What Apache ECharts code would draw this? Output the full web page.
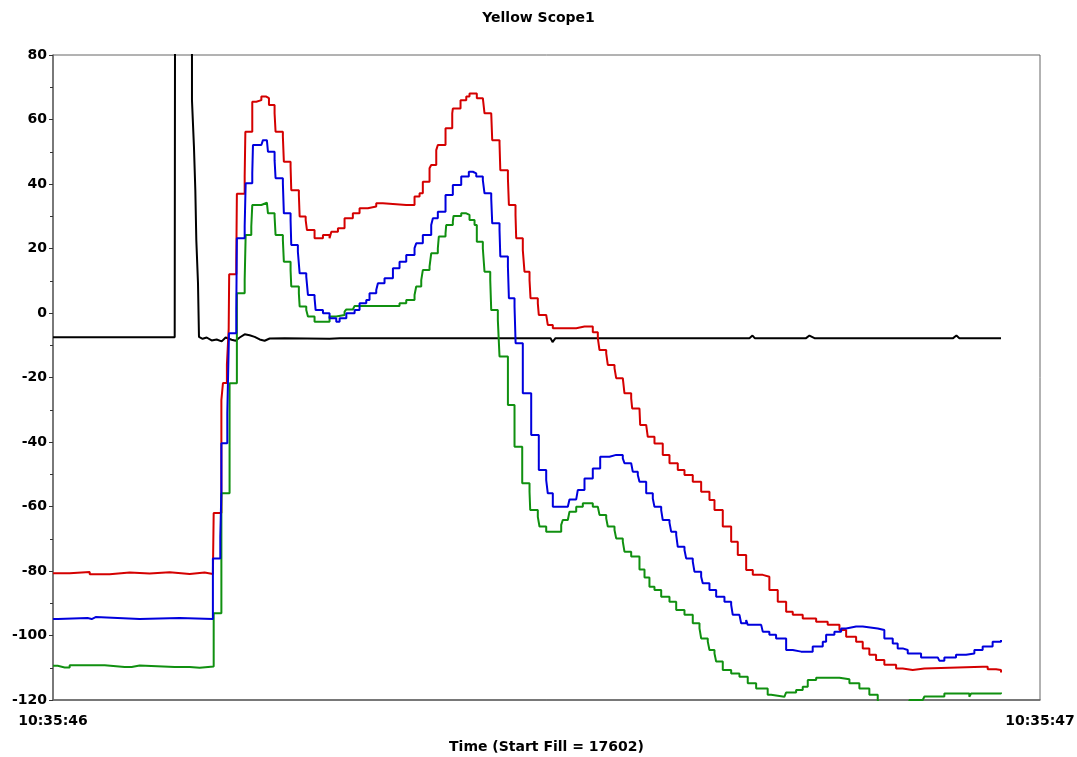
<!DOCTYPE html>
<html>
<head>
<meta charset="utf-8">
<script src="https://cdn.jsdelivr.net/npm/echarts@6/dist/echarts.min.js"></script>
<style>html,body{margin:0;padding:0;background:#fff;}#c{width:1077px;height:757px;}</style>
</head>
<body>
<div id="c"></div>
<script>
// time in ms after 10:35:46, value
const xTickLabels = ['10:35:46', '10:35:47'];
const yTicks = [-120, -100, -80, -60, -40, -20, 0, 20, 40, 60, 80];

const red = [[0,-80.7],[16.9,-80.3],[37.2,-81],[57.4,-80.5],[77.7,-80.8],[97.9,-80.4],[118.2,-80.9],[138.5,-80.5],[153.6,-80.9],[162.0,-80.7],
[162.8,-62],[170.6,-55.9],[170.6,-27],[172.2,-21.7],[176.2,-16],[178.0,-5],[178.5,12],[185.7,16],[186.3,37],[194.2,42.3],[194.9,56.2],
[201.9,65.5],[206.0,66],[211.1,67.1],[216.1,66.6],[218.8,64.5],[224.5,61.9],[225.5,56.2],[232.9,54.7],[233.9,46.9],[240.7,45.4],[241.4,38.1],
[249.1,36.6],[249.9,29.9],[256.0,28.8],[257.3,25.7],[265.0,23.2],[273.5,24.2],[280.2,23.2],[282.0,25.2],[288.7,26.3],[295.4,29.4],[303.8,30.9],
[310.6,32.5],[319.0,33],[327.5,34],[334.2,33.5],[357.9,33.5],[366.3,36.1],[371.4,37.1],[374.7,40.7],[381.5,44.9],[383.2,45.9],[388.3,50.5],
[389.9,52.1],[397.7,57.3],[404.5,61.9],[405.1,63.4],[412.9,66],[418.7,67.1],[422.0,68.1],[427.1,68.1],[429.4,66.6],[435.5,67.1],[437.2,61.9],
[444.0,61.4],[445.0,53.6],[452.4,52.6],[453.2,44.3],[460.9,41.8],[461.9,33.5],[468.6,30.4],[469.3,23.2],[476.0,19.5],[477.7,12.8],[482.8,10.2],
[483.8,4.6],[491.2,3],[492.2,-0.6],[499.7,-1.1],[501.3,-3.7],[506.4,-4.7],[526.6,-4.7],[530.1,-4.2],[538.5,-4.2],[546.9,-6],[552.0,-7.8],
[553.7,-11.5],[560.5,-12.5],[562.1,-16.1],[568.9,-17.1],[570.6,-20.2],[577.3,-20.8],[579.0,-24.9],[585.8,-26.5],[586.8,-29.6],[594.2,-30.1],
[594.9,-34.7],[601.0,-35.3],[602.6,-38.4],[609.4,-40.5],[617.8,-44],[624.6,-46.6],[633.0,-48.7],[639.8,-50.2],[648.2,-52.3],[656.7,-55.4],
[665.1,-58],[670.2,-61.1],[678.6,-66.2],[687.1,-70.9],[693.8,-75],[702.3,-79.7],[709.0,-81.2],[719.1,-81.8],[725.8,-85.9],[734.3,-89.5],
[742.8,-92.6],[749.5,-93.6],[759.6,-94.7],[773.2,-95.7],[784.9,-96.7],[796.8,-98.3],[803.6,-100.4],[813.7,-101.9],[820.4,-104],[827.1,-106],
[833.9,-107.6],[842.3,-109.1],[854.2,-110.2],[860.9,-110.7],[871.0,-110.2],[882.9,-109.7],[941.9,-109.7],[947.0,-110.5],[955.5,-110.7],[960.5,-111.5]];

const blue = [[0,-94.9],[4.8,-94.6],[35.1,-94.9],[39.2,-94.3],[43.2,-94.9],[87.8,-94.6],[128.3,-94.9],[162.0,-94.9],[162.0,-76.1],[169.5,-69.4],
[170.6,-55.4],[170.6,-40.4],[176.6,-31.1],[178.3,-6.3],[185.7,1],[186.3,23.2],[194.2,26.8],[195.2,40.2],[201.9,43.3],[202.6,52.1],[211.1,52.6],
[212.7,53.6],[216.7,53.1],[217.8,50],[224.5,47.4],[225.5,41.8],[232.9,40.2],[233.9,30.9],[240.7,28.8],[241.4,21.1],[248.1,19],[249.9,12.3],
[256.6,11.3],[258.3,5.6],[265.0,4.6],[266.1,0.9],[273.5,-0.1],[280.2,-1.6],[287.0,-2.7],[290.4,-1.6],[297.2,-0.1],[305.6,0.9],[310.6,3],
[317.4,4],[320.7,6.1],[327.5,7.1],[329.2,9.2],[335.9,10.8],[344.4,13.9],[351.1,15.9],[357.9,18],[366.3,20.1],[368.0,21.6],[374.7,24.2],
[383.2,27.3],[384.9,29.4],[389.9,31.4],[397.7,36.6],[405.1,39.7],[413.6,42.3],[421.3,43.8],[425.4,43.3],[428.8,42.3],[435.5,41.2],[437.2,37.1],
[444.0,35.5],[445.0,27.8],[452.4,25.7],[453.2,17.5],[460.9,14.4],[461.9,4.6],[467.6,2],[468.7,-9.4],[476.0,-13.5],[476.0,-24.9],[484.5,-28],
[484.5,-37.8],[492.2,-40.4],[492.2,-48.7],[499.7,-51.8],[501.3,-55.9],[506.4,-57.5],[506.4,-60.1],[521.6,-60.1],[523.3,-57.8],[530.1,-57.5],
[531.7,-54.9],[538.5,-53.8],[538.5,-51.3],[546.9,-48.2],[554.4,-44.6],[563.8,-44],[570.6,-44],[577.3,-45.1],[579.0,-46.6],[585.8,-47.1],
[587.4,-49.2],[592.5,-50.2],[594.2,-52.3],[601.0,-53.3],[601.0,-55.9],[607.7,-57.5],[609.4,-60.1],[616.2,-61.1],[617.8,-64.2],[624.6,-65],
[626.3,-67.8],[631.4,-68.8],[633.0,-72.5],[639.8,-73.5],[641.5,-76.1],[648.2,-77.1],[649.9,-80.2],[656.7,-81.8],[658.3,-83.8],[665.1,-85.9],
[671.9,-88],[680.3,-89.5],[687.1,-90.5],[688.7,-93.6],[695.5,-94.1],[697.2,-96.2],[702.3,-95.2],[703.9,-96.7],[717.5,-97.2],[719.1,-98.8],
[725.8,-99.8],[732.6,-100.9],[742.8,-101.9],[742.8,-104.5],[749.5,-105],[758.0,-105],[769.7,-103.4],[779.9,-101.9],[783.3,-99.8],[791.7,-98.8],
[798.5,-97.8],[803.6,-97.2],[813.7,-97.2],[820.4,-97.8],[835.6,-98.3],[842.3,-100.9],[850.8,-102.5],[855.8,-104],[860.9,-104.5],[866.0,-105.6],
[879.5,-106.8],[896.4,-106.8],[898.0,-107.8],[903.1,-106.8],[914.9,-106],[925.1,-105.6],[933.5,-104.5],[941.9,-103.4],[952.0,-101.9],[960.5,-101.4]];

const green = [[0,-109.4],[4.8,-109.9],[11.9,-109.9],[16.9,-109.2],[42.2,-109.2],[52.4,-109.8],[72.6,-109.8],[79.7,-109.3],[87.8,-109.8],
[123.3,-109.8],[138.5,-110],[148.6,-109.6],[162.8,-109.6],[162.8,-93.1],[170.6,-86.9],[170.6,-55.9],[178.9,-48.7],[178.9,-21.8],[186.3,-15.1],
[186.3,6.1],[194.2,10.2],[195.2,24.2],[200.9,26.8],[201.9,33.5],[211.1,34],[212.7,34.2],[216.7,34],[217.8,30.9],[224.5,29.9],[225.5,24.2],
[232.9,22.6],[233.9,15.9],[240.7,13.3],[241.4,8.2],[249.1,6.1],[249.9,2],[256.6,0.9],[258.3,-1.1],[265.0,-2.7],[275.2,-2.7],[280.2,-1.1],
[287.0,-0.6],[295.4,0.4],[297.2,1.1],[303.8,1.5],[305.6,2.2],[347.8,2.2],[351.1,3],[357.9,4],[366.3,5.6],[368.0,8.2],[373.1,10.2],[374.7,13.3],
[381.5,14.4],[383.2,18.5],[389.9,20],[390.9,23.7],[397.7,24.7],[398.4,27.3],[405.1,28.3],[405.8,30.1],[413.6,30.9],[418.7,30.4],[422.0,28.8],
[427.1,27.3],[429.4,22.1],[435.5,20],[437.2,12.8],[443.0,10.2],[444.0,0.9],[450.7,-2.2],[452.4,-13.5],[460.9,-17.7],[460.9,-28.5],[467.6,-31.6],
[467.6,-41.5],[475.4,-44],[475.4,-52.8],[482.8,-55.4],[483.5,-61.1],[491.2,-63.2],[492.9,-66.2],[499.7,-67.8],[506.4,-67.8],[514.9,-65.7],
[516.5,-64.2],[521.6,-64.2],[523.3,-61.6],[530.1,-60.1],[536.8,-59],[543.6,-59],[546.9,-60.1],[552.0,-60.6],[553.7,-62.6],[560.5,-63.7],
[562.1,-66.2],[568.9,-67.3],[570.6,-69.9],[577.3,-70.9],[579.0,-74],[585.8,-75.5],[594.2,-79.5],[599.3,-82],[604.3,-84.9],[609.4,-85.9],
[616.2,-88],[624.6,-89.5],[631.4,-92.1],[639.8,-93.6],[648.2,-96.2],[655.0,-97.8],[656.7,-100.9],[663.4,-101.9],[665.1,-104.5],[670.2,-105.6],
[671.9,-108.1],[678.6,-109.1],[678.6,-110.7],[687.1,-111.8],[695.5,-112.8],[703.9,-114.8],[712.4,-116.4],[724.1,-118.4],[727.6,-119],
[741.0,-119],[742.7,-117.7],[752.9,-116.9],[759.6,-115.9],[764.7,-113.8],[773.2,-113.1],[786.6,-113.1],[796.8,-113.6],[806.9,-114.8],
[817.0,-116.4],[827.1,-118.4],[835.6,-120],[837.3,-122],[865.6,-122],[867.7,-120],[881.2,-120],[882.9,-118.9],[899.8,-118.9],[903.1,-118],
[925.1,-118],[928.4,-119],[930.2,-118],[960.5,-117.7]];

const black = [[0,-7.5],[47.4,-7.5],[118.2,-7.5],[120.2,-6.9],[123.3,-7.5],[124.0,200],[140.8,200],[140.8,66],[142.8,51.6],[144.2,38.1],
[145.2,22.6],[146.9,9.3],[147.9,-7.4],[151.6,-8],[155.7,-7.6],[160.7,-8.5],[165.8,-8.2],[170.9,-8.8],[174.9,-7.6],[181.0,-8.3],[185.0,-8.6],
[189.1,-7.6],[194.2,-6.6],[199.2,-6.9],[204.3,-7.4],[209.4,-8.2],[214.4,-8.6],[219.5,-7.9],[234.7,-7.8],[280.2,-8],[290.4,-7.8],[504.1,-7.8],
[506.1,-9],[509.1,-7.8],[705.6,-7.8],[708.7,-7.0],[711,-7.8],[763,-7.8],[766.4,-7.0],[771.5,-7.8],[912,-7.8],[915.3,-7.0],[918.3,-7.8],[960.5,-7.8]];

const chart = echarts.init(document.getElementById('c'));
const font = '"DejaVu Sans", "Liberation Sans", Arial, sans-serif';
function line(data, color, step) {
  return { type: 'line', data: data, showSymbol: false, symbol: 'none', clip: true, step: step,
    lineStyle: { color: color, width: 2 }, itemStyle: { color: color } };
}
chart.setOption({
  animation: false,
  backgroundColor: '#fff',
  title: { text: 'Yellow Scope1', left: 'center', top: 6,
    textStyle: { fontFamily: font, fontSize: 14, fontWeight: 'bold', color: '#000' } },
  grid: { left: 53, right: 37, top: 55, bottom: 57, containLabel: false, outerBoundsMode: 'none',
    show: true, borderColor: '#666', borderWidth: 1, backgroundColor: 'transparent' },
  xAxis: {
    type: 'value', min: 0, max: 1000, interval: 1000,
    name: 'Time (Start Fill = 17602)', nameLocation: 'middle', nameGap: 40,
    nameTextStyle: { fontFamily: font, fontSize: 14, fontWeight: 'bold', color: '#000' },
    axisLine: { show: true, onZero: false, lineStyle: { color: '#666', width: 1.5 } },
    axisTick: { show: false }, splitLine: { show: false },
    axisLabel: { margin: 14, fontFamily: font, fontSize: 14, fontWeight: 'bold', color: '#000',
      showMinLabel: true, showMaxLabel: true,
      formatter: v => v === 0 ? xTickLabels[0] : (v === 1000 ? xTickLabels[1] : '') }
  },
  yAxis: {
    type: 'value', min: yTicks[0], max: yTicks[yTicks.length - 1], interval: 20,
    axisLine: { show: true, onZero: false, lineStyle: { color: '#666', width: 1.5 } },
    axisTick: { show: true, length: 4, lineStyle: { color: '#333' } },
    minorTick: { show: true, splitNumber: 2, length: 3, lineStyle: { color: '#333' } },
    splitLine: { show: false },
    axisLabel: { margin: 6, fontFamily: font, fontSize: 14, fontWeight: 'bold', color: '#000' }
  },
  series: [line(black, '#000000', false), line(red, '#d40000', 'end'), line(green, '#109010', 'end'), line(blue, '#0000dd', 'end')]
});
</script>
</body>
</html>
